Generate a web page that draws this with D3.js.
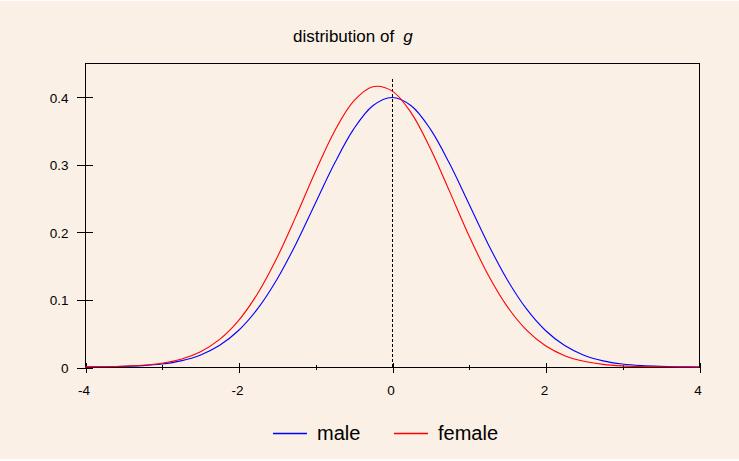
<!DOCTYPE html>
<html>
<head>
<meta charset="utf-8">
<script src="https://cdn.jsdelivr.net/npm/d3@7"></script>
<style>
  body { margin: 0; background: #fff; }
  text { font-family: "Liberation Sans", Arial, sans-serif; fill: #000; }
</style>
</head>
<body>
<div id="chart"></div>
<script>
// values, density at each x
var xValues = [-4, -3.75, -3.5, -3.25, -3, -2.75, -2.5, -2.25, -2, -1.75, -1.5, -1.25, -1, -0.75, -0.5, -0.25,
  0, 0.25, 0.5, 0.75, 1, 1.25, 1.5, 1.75, 2, 2.25, 2.5, 2.75, 3, 3.25, 3.5, 3.75, 4];

var maleDensity = [0.0001, 0.0004, 0.0009, 0.0020, 0.0044, 0.0091, 0.0175, 0.0317, 0.0540, 0.0863, 0.1295, 0.1826,
  0.2420, 0.3011, 0.3521, 0.3867, 0.3989, 0.3867, 0.3521, 0.3011, 0.2420, 0.1826, 0.1295, 0.0863, 0.0540,
  0.0317, 0.0175, 0.0091, 0.0044, 0.0020, 0.0009, 0.0004, 0.0001];

var femaleDensity = [0.0002, 0.0004, 0.0010, 0.0025, 0.0055, 0.0115, 0.0223, 0.0405, 0.0687, 0.1089, 0.1613, 0.2233,
  0.2886, 0.3487, 0.3935, 0.4149, 0.4087, 0.3762, 0.3235, 0.2600, 0.1951, 0.1369, 0.0897, 0.0549, 0.0314,
  0.0168, 0.0084, 0.0039, 0.0017, 0.0007, 0.0003, 0.0001, 0.0000];

var seriesNames = ["male", "female"];
var seriesColors = ["#0000ff", "#ff0000"];

var xMajorTicks = [-4, -2, 0, 2, 4];
var xMinorTicks = [-3, -1, 1, 3];
var yTicks = [0, 0.1, 0.2, 0.3, 0.4];

var svgWidth = 739;
var svgHeight = 461;

var margin = { top: 63, right: 40, bottom: 94, left: 85 };
var width = 614;
var height = 304;

var svg = d3.select("#chart").append("svg")
  .attr("width", svgWidth).attr("height", svgHeight);

svg.append("rect").attr("x", 0).attr("y", 1)
  .attr("width", svgWidth).attr("height", 458)
  .attr("fill", "#faf0e6");

var chartGroup = svg.append("g")
  .attr("transform", `translate(${margin.left}, ${margin.top})`);

var xLinearScale = d3.scaleLinear().domain([-4, 4]).range([0, width]);
var yLinearScale = d3.scaleLinear().domain([0, 0.45]).range([height, 0]);

// frame
chartGroup.append("rect")
  .attr("x", 0.5).attr("y", 0.5)
  .attr("width", width).attr("height", height)
  .attr("fill", "none").attr("stroke", "#000").attr("stroke-width", 1)
  .attr("shape-rendering", "crispEdges");

// x axis, ticks cross the line
var bottomAxis = d3.axisBottom(xLinearScale).tickValues(xMajorTicks).tickFormat(d => String(d)).tickSize(0);
var xAxis = chartGroup.append("g")
  .attr("transform", `translate(0.5, ${height + 0.5})`)
  .call(bottomAxis);
xAxis.select(".domain").remove();
xAxis.selectAll(".tick line").attr("y1", -5).attr("y2", 5).attr("shape-rendering", "crispEdges");
xAxis.selectAll(".tick text")
  .attr("y", 27).attr("dy", 0).attr("dx", -2)
  .style("font-size", "13.5px")
  .attr("font-family", null);

var minorAxis = d3.axisBottom(xLinearScale).tickValues(xMinorTicks).tickFormat("").tickSize(0);
var xMinor = chartGroup.append("g")
  .attr("transform", `translate(0.5, ${height + 0.5})`)
  .call(minorAxis);
xMinor.select(".domain").remove();
xMinor.selectAll(".tick line").attr("y1", -3).attr("y2", 2).attr("shape-rendering", "crispEdges");

// y axis
var leftAxis = d3.axisLeft(yLinearScale).tickValues(yTicks)
  .tickFormat(d => d === 0 ? "0" : d3.format(".1f")(d)).tickSize(0);
var yAxis = chartGroup.append("g")
  .attr("transform", "translate(0.5, 0.5)")
  .call(leftAxis);
yAxis.select(".domain").remove();
yAxis.selectAll(".tick line").attr("x1", -9).attr("x2", 7).attr("shape-rendering", "crispEdges");
yAxis.selectAll(".tick text")
  .attr("x", -17).attr("dy", "0.36em")
  .style("font-size", "13.5px")
  .attr("font-family", null);

// dashed line at zero
chartGroup.append("line")
  .attr("x1", xLinearScale(0) + 0.5).attr("x2", xLinearScale(0) + 0.5)
  .attr("y1", yLinearScale(0.427)).attr("y2", height)
  .attr("stroke", "#000").attr("stroke-dasharray", "3,2")
  .attr("shape-rendering", "crispEdges");

// curves
var lineGen = d3.line()
  .x((d, i) => xLinearScale(xValues[i]))
  .y(d => yLinearScale(d))
  .curve(d3.curveCatmullRom);

[maleDensity, femaleDensity].forEach(function(series, i) {
  chartGroup.append("path")
    .datum(series)
    .attr("d", lineGen)
    .attr("fill", "none")
    .attr("stroke", seriesColors[i])
    .attr("stroke-width", 1.1);
});

// title
var title = svg.append("text")
  .attr("x", 293).attr("y", 42)
  .style("font-size", "17px");
title.append("tspan").text("distribution of");
title.append("tspan").attr("dx", 9).style("font-style", "italic").text("g");

// legend
var legendX = [273, 394];
var legend = svg.selectAll(".legend")
  .data(seriesNames)
  .enter()
  .append("g")
  .attr("class", "legend")
  .attr("transform", (d, i) => `translate(${legendX[i]}, 433.5)`);

legend.append("line")
  .attr("x1", 0).attr("x2", 34)
  .attr("stroke", d => seriesColors[seriesNames.indexOf(d)])
  .attr("stroke-width", 1.3);

legend.append("text")
  .attr("x", 44).attr("y", 6.5)
  .style("font-size", "20px")
  .text(d => d);
</script>
</body>
</html>
